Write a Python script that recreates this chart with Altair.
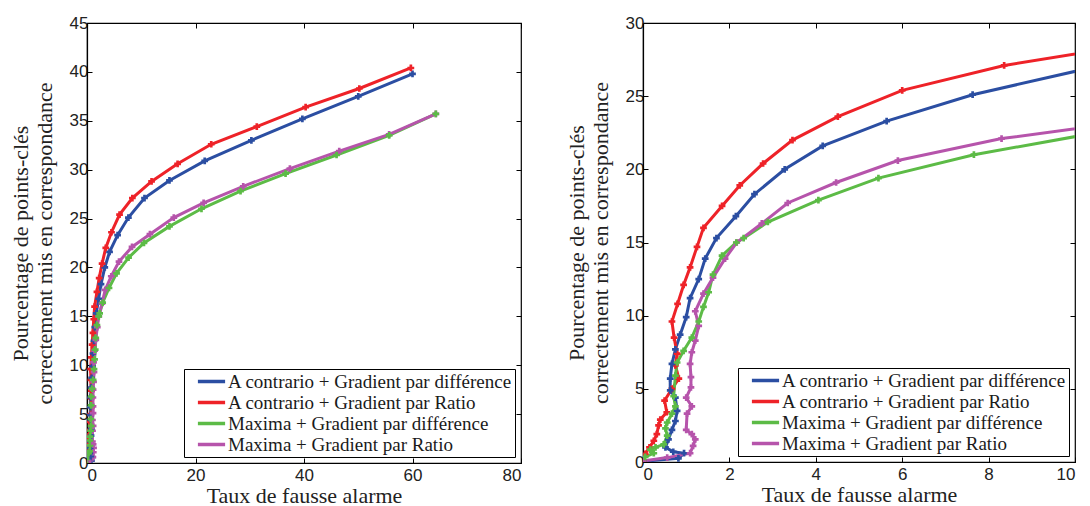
import altair as alt
import pandas as pd

# ---- data ----
series_names = [
    "A contrario + Gradient par différence",
    "A contrario + Gradient par Ratio",
    "Maxima + Gradient par différence",
    "Maxima + Gradient par Ratio",
]
colors = ["#2b4ea2", "#ee2228", "#5cbb46", "#b654ab"]

blue_x = [0.0, 0.82, 0.95, 0.70, 0.52, 0.59, 0.67, 0.75, 0.79, 0.75, 0.63, 0.63, 0.67, 0.75, 0.86, 1.00,
          1.09, 1.29, 1.44, 1.70, 2.15, 2.58, 3.28, 4.16, 5.64, 7.63, 10.6, 15.2, 21.7, 30.3, 39.7, 50.0, 60.0]
blue_y = [0.05, 0.25, 0.6, 0.7, 1.0, 1.55, 2.2, 2.8, 3.5, 4.4, 4.9, 5.7, 6.7, 7.7, 8.7, 9.9,
          11.2, 12.5, 13.9, 15.3, 16.8, 18.3, 20.0, 21.6, 23.3, 25.1, 27.1, 28.9, 30.9, 33.0, 35.2, 37.5, 39.8]

red_x = [0.0, 0.05, 0.15, 0.25, 0.32, 0.36, 0.40, 0.55, 0.50, 0.67, 0.83, 0.75, 0.79, 0.72, 0.67, 0.80,
         0.94, 1.09, 1.25, 1.40, 1.83, 2.24, 2.78, 3.46, 4.51, 6.0, 8.36, 11.9, 16.7, 22.9, 31.3, 40.3, 50.2, 59.7]
red_y = [0.1, 0.55, 1.0, 1.45, 1.9, 2.5, 2.9, 3.4, 4.2, 5.0, 5.7, 6.6, 7.4, 8.5, 9.6, 10.8,
         12.1, 13.3, 14.7, 16.0, 17.5, 18.9, 20.4, 22.0, 23.6, 25.4, 27.1, 28.8, 30.6, 32.6, 34.4, 36.4, 38.3, 40.4]

green_x = [0.0, 0.05, 0.25, 0.17, 0.29, 0.48, 0.56, 0.52, 0.56, 0.67, 0.75, 0.71, 0.75, 0.79, 0.94, 1.13,
           1.29, 1.40, 1.52, 1.62, 1.83, 2.16, 2.33, 2.89, 4.06, 5.45, 7.66, 10.5, 15.2, 21.1, 28.3, 36.6, 46.0, 55.7, 64.3]
green_y = [0.05, 0.35, 0.6, 0.85, 1.0, 1.2, 1.8, 2.3, 2.7, 3.3, 3.8, 4.5, 5.9, 6.8, 7.6, 8.5,
           9.6, 10.6, 11.6, 12.8, 14.1, 15.0, 15.3, 16.4, 17.9, 19.4, 21.0, 22.5, 24.2, 26.0, 27.8, 29.6, 31.5, 33.5, 35.7]

magenta_x = [0.0, 0.56, 1.09, 1.16, 1.21, 1.13, 1.00, 1.02, 1.13, 1.00, 1.11, 1.11, 1.09, 1.13, 1.21, 1.29,
             1.21, 1.40, 1.62, 1.90, 2.17, 2.75, 3.35, 4.47, 5.90, 8.30, 11.6, 16.0, 21.5, 28.8, 37.4, 46.5, 55.7, 64.3]
magenta_y = [0.07, 0.3, 0.6, 1.1, 1.55, 1.9, 2.2, 3.3, 3.8, 4.4, 5.1, 5.8, 6.7, 7.5, 8.3, 9.3,
             10.3, 11.5, 12.6, 13.9, 15.0, 16.3, 17.7, 19.1, 20.6, 22.1, 23.4, 25.1, 26.6, 28.3, 30.1, 31.9, 33.6, 35.7]

left_x_ticks = [0, 20, 40, 60, 80]
left_y_ticks = [0, 5, 10, 15, 20, 25, 30, 35, 40, 45]
right_x_ticks = [0, 2, 4, 6, 8, 10]
right_y_ticks = [0, 5, 10, 15, 20, 25, 30]

x_title = "Taux de fausse alarme"
y_title = ["Pourcentage de points-clés", "correctement mis en correspondance"]

# ---- table ----
rows = []
for name, xs, ys in zip(series_names,
                        [blue_x, red_x, green_x, magenta_x],
                        [blue_y, red_y, green_y, magenta_y]):
    for i, (xv, yv) in enumerate(zip(xs, ys)):
        rows.append({"serie": name, "i": i, "x": xv, "y": yv})
df = pd.DataFrame(rows)

SANS = "Liberation Sans"
SERIF = "Liberation Serif"
INNER = {"expr": "-5"}


def panel(xdom, ydom, xt, yt, w, h):
    base = alt.Chart(df)
    xs = alt.Scale(domain=xdom, nice=False, zero=False)
    ys = alt.Scale(domain=ydom, nice=False, zero=False)
    lines = base.mark_line(
        strokeWidth=3, clip=True,
        point=alt.OverlayMarkDef(shape="cross", size=45, filled=True, clip=True),
    ).encode(
        x=alt.X("x:Q", scale=xs, axis=alt.Axis(
            values=xt, title=x_title, tickSize=INNER, labelPadding=9,
            titlePadding=2, grid=False)),
        y=alt.Y("y:Q", scale=ys, axis=alt.Axis(
            values=yt, title=y_title, tickSize=INNER, labelPadding=4,
            titlePadding=13, grid=False)),
        color=alt.Color("serie:N", scale=alt.Scale(domain=series_names, range=colors),
                        legend=alt.Legend(
                            orient="bottom-right", offset=6, title=None,
                            strokeColor="black", fillColor="white", padding=2,
                            symbolType="M-1.6,0H1.6M0,-0.22V0.22",
                            symbolStrokeWidth=3.5, symbolSize=289, symbolOffset=15,
                            labelFont=SERIF, labelFontSize=19, labelLimit=0,
                            labelColor="#1a1a1a", rowPadding=0, cornerRadius=0,
                            labelOffset=6)),
        order=alt.Order("i:Q"),
    )
    frame = base.mark_point(opacity=0, clip=True).encode(
        x=alt.X("x:Q", scale=xs, axis=alt.Axis(
            orient="top", values=xt, labels=False, title=None, domain=False,
            tickSize=INNER, grid=False)),
        y=alt.Y("y:Q", scale=ys, axis=alt.Axis(
            orient="right", values=yt, labels=False, title=None, domain=False,
            tickSize=INNER, grid=False)),
    )
    return alt.layer(lines, frame).resolve_axis(x="independent", y="independent").properties(
        width=w, height=h)


left = panel([0, 80], [0, 45], left_x_ticks, left_y_ticks, 434, 440)
right = panel([0, 10], [0, 30], right_x_ticks, right_y_ticks, 432, 439)

chart = alt.hconcat(left, right, spacing=41).resolve_scale(
    color="independent").resolve_legend(color="independent").properties(
    padding={"left": 0, "top": 5, "right": 0, "bottom": 0},
    background="white",
).configure_view(stroke="black", strokeWidth=1.2).configure_axis(
    labelFont=SANS, labelFontSize=17, labelColor="#222",
    titleFont=SERIF, titleFontSize=22, titleFontWeight="normal", titleColor="#222",
    domainColor="black", tickColor="black", domainWidth=1.2, tickWidth=1,
)

chart.save("out.html", embed_options={"renderer": "svg", "actions": False})
